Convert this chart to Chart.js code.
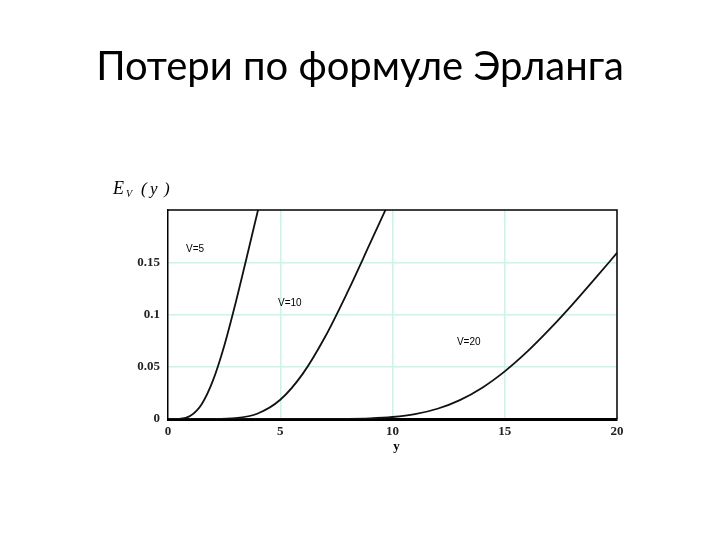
<!DOCTYPE html>
<html>
<head>
<meta charset="utf-8">
<script src="https://cdn.jsdelivr.net/npm/chart.js@4/dist/chart.umd.min.js"></script>
<style>
  body { margin: 0; background: #fff; }
  #wrap { width: 720px; height: 540px; }
</style>
</head>
<body>
<div id="wrap"><canvas id="erlang" width="720" height="540"></canvas></div>
<script>
// Load (y, Erl) and loss values
const loadV5 = [0, 0.5, 1, 1.5, 2, 2.5, 3, 3.5, 4, 4.5];
const lossV5 = [0, 0.0002, 0.0031, 0.0142, 0.0367, 0.0697, 0.1101, 0.1541, 0.1991, 0.243];

const loadV10 = [0, 1, 2, 3, 4, 5, 6, 7, 8, 9, 10];
const lossV10 = [0, 0, 0.00004, 0.0008, 0.0053, 0.0184, 0.0432, 0.0787, 0.1216, 0.168, 0.2146];

const loadV20 = [0, 8, 9, 10, 11, 12, 13, 14, 15, 16, 17, 18, 19, 20];
const lossV20 = [0, 0.0002, 0.0006, 0.0019, 0.0046, 0.0098, 0.0181, 0.030, 0.0456, 0.0644, 0.0859, 0.1092, 0.1338, 0.1589];

const curveLabels = ['V=5', 'V=10', 'V=20'];
// where each curve label starts, in data units
const labelX = [0.8, 4.9, 12.87];
const labelY = [0.1625, 0.1106, 0.073];

const xTicks = [0, 5, 10, 15, 20];
const yTicks = [0, 0.05, 0.1, 0.15, 0.2];

const titleText = 'Потери по формуле Эрланга';

function toPoints(xs, ys) {
  return xs.map((x, i) => ({ x: x, y: ys[i] }));
}

const gridGreen = 'rgb(208, 242, 228)';

// Extra text: slide title, axis names and curve labels
const textPlugin = {
  id: 'textPlugin',
  afterDraw(chart) {
    const ctx = chart.ctx;
    const area = chart.chartArea;
    const xs = chart.scales.x;
    const ys = chart.scales.y;
    ctx.save();
    ctx.fillStyle = '#000';

    // title
    ctx.font = '40px Lato';
    ctx.textAlign = 'center';
    ctx.textBaseline = 'alphabetic';
    ctx.fillText(titleText, 360, 80);

    // y axis name E_V(y)
    ctx.textAlign = 'left';
    ctx.font = 'italic 18px "Liberation Serif"';
    ctx.fillText('E', area.left - 55, 194);
    ctx.font = 'italic 10px "Liberation Serif"';
    ctx.fillText('V', area.left - 42, 197);
    ctx.font = 'italic 17px "Liberation Serif"';
    ctx.fillText('(', area.left - 27, 194);
    ctx.fillText('y', area.left - 18, 194);
    ctx.fillText(')', area.left - 4, 194);

    // x axis name
    ctx.font = 'bold 13px "Liberation Serif"';
    ctx.textAlign = 'center';
    ctx.fillText('y', (xs.getPixelForValue(10) + 4), area.bottom + 31);

    // curve labels
    ctx.font = '10px "Liberation Sans"';
    ctx.textAlign = 'left';
    ctx.textBaseline = 'middle';
    curveLabels.forEach((t, i) => {
      ctx.fillText(t, xs.getPixelForValue(labelX[i]), ys.getPixelForValue(labelY[i]));
    });

    // top and right frame
    ctx.strokeStyle = '#000';
    ctx.lineWidth = 1.5;
    ctx.beginPath();
    ctx.moveTo(area.left, area.top);
    ctx.lineTo(area.right, area.top);
    ctx.lineTo(area.right, area.bottom);
    ctx.stroke();
    ctx.restore();
  }
};

const lineStyle = {
  borderColor: '#111',
  borderWidth: 1.8,
  pointRadius: 0,
  fill: false,
  cubicInterpolationMode: 'monotone'
};

const ctx = document.getElementById('erlang').getContext('2d');

const erlangChart = new Chart(ctx, {
  type: 'line',
  data: {
    datasets: [
      Object.assign({ label: curveLabels[0], data: toPoints(loadV5, lossV5) }, lineStyle),
      Object.assign({ label: curveLabels[1], data: toPoints(loadV10, lossV10) }, lineStyle),
      Object.assign({ label: curveLabels[2], data: toPoints(loadV20, lossV20) }, lineStyle)
    ]
  },
  options: {
    responsive: false,
    animation: false,
    layout: {
      padding: { left: 128, right: 103, top: 210, bottom: 81 }
    },
    plugins: {
      legend: { display: false },
      tooltip: { enabled: false }
    },
    scales: {
      x: {
        type: 'linear',
        min: 0,
        max: 20,
        afterFit: scale => { scale.height = 40; },
        afterBuildTicks: scale => { scale.ticks = xTicks.map(v => ({ value: v })); },
        grid: {
          color: ctx => (ctx.tick && (ctx.tick.value === 0 || ctx.tick.value === 20)) ? 'rgba(0,0,0,0)' : gridGreen,
          lineWidth: 1.5,
          drawTicks: false
        },
        border: { color: '#000', width: 3 },
        ticks: {
          padding: 5,
          color: '#222',
          font: { family: 'Liberation Serif', size: 13, weight: 'bold' }
        }
      },
      y: {
        type: 'linear',
        min: 0,
        max: 0.2,
        afterFit: scale => { scale.width = 40; },
        afterBuildTicks: scale => { scale.ticks = yTicks.map(v => ({ value: v })); },
        grid: {
          color: ctx => (ctx.tick && (ctx.tick.value === 0 || ctx.tick.value === 0.2)) ? 'rgba(0,0,0,0)' : gridGreen,
          lineWidth: 1.5,
          drawTicks: false
        },
        border: { color: '#000', width: 1.5 },
        ticks: {
          padding: 8,
          color: '#222',
          font: { family: 'Liberation Serif', size: 13, weight: 'bold' },
          callback: v => (v >= 0.2 ? '' : String(v))
        }
      }
    }
  },
  plugins: [textPlugin]
});
</script>
</body>
</html>
